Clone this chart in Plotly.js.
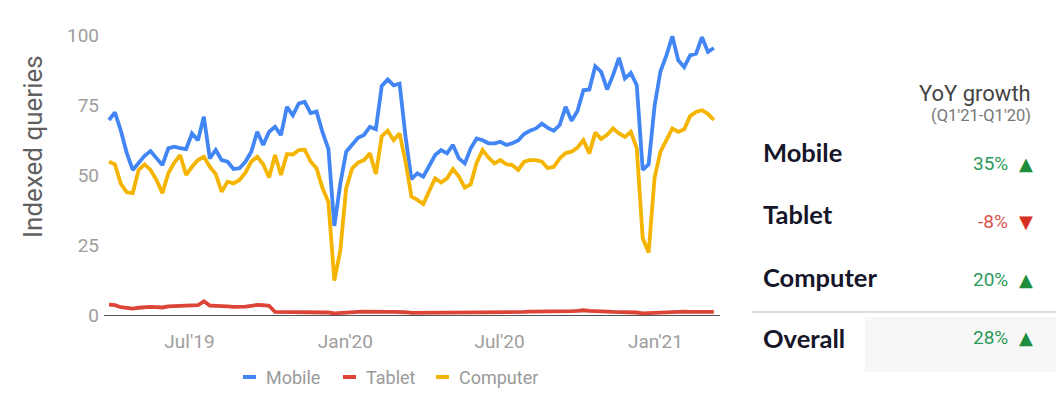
<!DOCTYPE html>
<html>
<head>
<meta charset="utf-8">
<script src="https://cdn.plot.ly/plotly-3.0.1.min.js"></script>
<style>
html, body { margin: 0; padding: 0; background: #ffffff; }
#chart { width: 1064px; height: 404px; }
</style>
</head>
<body>
<div id="chart"></div>
<script>
// ---- Data (weekly index values) ----
const startWeek = '2019-03-28';

const mobile = [
  69.8, 72.5, 66, 58, 52, 54.3, 57, 58.7, 56, 53.7,
  59.7, 60.3, 59.8, 59.4, 65, 62.6, 71, 56.1, 59.1, 55.5,
  54.9, 52.3, 52.6, 54.9, 58.5, 65.6, 60.9, 65.6, 67.4, 64.4,
  74.5, 71.5, 75.7, 76.3, 72.3, 72.8, 65.5, 59.5, 32, 47,
  58.5, 61.2, 63.5, 64.5, 67.4, 66.5, 82, 84.3, 82.2, 82.8,
  64, 48.7, 50.8, 49.6, 53.4, 57.3, 59.1, 57.9, 60.9, 56.1,
  54.3, 59.7, 63.2, 62.6, 61.5, 61.5, 62, 60.9, 61.5, 62.5,
  64.8, 66, 66.8, 68.5, 67, 66, 68, 74.5, 69.5, 73,
  80.4, 80.7, 89, 87, 80.7, 85.8, 92, 84.6, 86.6, 82.2,
  52, 54, 74.8, 87.2, 92.9, 99.7, 91.1, 88.7, 92.9, 93.5,
  99.4, 94.1, 95.5
];

const tablet = [
  3.9, 3.7, 3.0, 2.6, 2.5, 2.8, 3.0, 3.1, 3.0, 2.9,
  3.3, 3.4, 3.4, 3.6, 3.5, 3.7, 5.1, 3.6, 3.5, 3.5,
  3.3, 3.1, 3.0, 3.2, 3.5, 3.8, 3.7, 3.5, 1.3, 1.3,
  1.3, 1.4, 1.3, 1.3, 1.4, 1.3, 1.2, 1.1, 0.8, 1.0,
  1.2, 1.3, 1.3, 1.4, 1.3, 1.3, 1.4, 1.3, 1.3, 1.4,
  1.2, 1.0, 1.0, 1.1, 1.1, 1.2, 1.2, 1.3, 1.2, 1.2,
  1.3, 1.2, 1.2, 1.3, 1.3, 1.2, 1.3, 1.3, 1.2, 1.3,
  1.3, 1.4, 1.4, 1.3, 1.4, 1.4, 1.5, 1.5, 1.6, 1.7,
  1.9, 1.7, 1.5, 1.4, 1.4, 1.3, 1.3, 1.3, 1.2, 1.1,
  0.8, 0.9, 1.1, 1.2, 1.3, 1.3, 1.3, 1.4, 1.3, 1.3,
  1.3, 1.3, 1.3
];

const computer = [
  54.9, 54, 47, 44, 43.7, 52, 54, 52, 48.4, 43.7,
  50.8, 54.5, 57.3, 50.2, 53.1, 55.5, 56.7, 53.1, 50.5, 44.2,
  47.8, 47.2, 48.4, 51, 55, 56.7, 54, 49.3, 57.3, 50.2,
  57.6, 57.5, 59.1, 59.2, 55, 52.6, 45.5, 40.5, 12.5, 23.2,
  45.5, 52.5, 54.6, 55.5, 57.9, 50.5, 64, 66, 62.6, 65,
  55, 42.5, 41.3, 39.8, 44.5, 49, 47.5, 49, 52.3, 49.6,
  45.7, 46.9, 54.6, 59.1, 56.4, 54.3, 55.5, 54, 53.7, 52,
  54.9, 55.5, 55.5, 54.9, 52.6, 53.1, 56.1, 58, 58.5, 60,
  62.6, 57.9, 65.3, 63, 64.5, 66.8, 65, 63.8, 65.6, 59.7,
  27.6, 22.5, 49.2, 58.5, 62.6, 66.8, 65.6, 66.5, 71.2, 72.7,
  73.3, 72, 69.8
];

const seriesNames = ['Mobile', 'Tablet', 'Computer'];
const seriesColors = ['#4285f4', '#db4437', '#f4b400'];

const xTickVals = ['2019-07-01', '2020-01-01', '2020-07-01', '2021-01-01'];
const xTickText = ["Jul'19", "Jan'20", "Jul'20", "Jan'21"];
const yTickVals = [0, 25, 50, 75, 100];

const tableHeader = 'YoY growth';
const tableSubHeader = "(Q1'21-Q1'20)";
const rowLabels = ['Mobile', 'Tablet', 'Computer', 'Overall'];
const yoyGrowth = [35, -8, 20, 28];

// ---- helpers ----
const DAY = 86400000;
function weekDates(start, n) {
  const t0 = Date.parse(start + 'T00:00:00Z');
  const out = [];
  for (let i = 0; i < n; i++) out.push(new Date(t0 + i * 7 * DAY).toISOString().slice(0, 10));
  return out;
}
function fmt(ms) { return new Date(ms).toISOString().replace('T', ' ').slice(0, 19); }

const W = 1064, H = 404;
const M = { l: 104, r: 344, t: 27, b: 80 };
const PW = W - M.l - M.r, PH = H - M.t - M.b;
const px = x => (x - M.l) / PW;           // pixel -> paper x
const py = y => (H - M.b - y) / PH;       // pixel -> paper y

const dates = weekDates(startWeek, mobile.length);
const pxPerDay = 5.93 / 7;
const t0 = Date.parse(startWeek + 'T00:00:00Z');
const xRange = [fmt(t0 - (5 / pxPerDay) * DAY), fmt(t0 + ((PW - 5) / pxPerDay) * DAY)];

const seriesData = [mobile, tablet, computer];
const traces = seriesNames.map((name, k) => ({
  type: 'scatter', mode: 'lines', name: name,
  x: dates, y: seriesData[k],
  line: { color: seriesColors[k], width: 3.8, shape: 'linear' },
  showlegend: false,
  hoverinfo: 'x+y+name'
}));

const annotations = [];
const shapes = [];

// y-axis title
annotations.push({
  xref: 'paper', yref: 'paper', x: px(33), y: py(147),
  text: 'Indexed queries', textangle: -90, showarrow: false,
  xanchor: 'center', yanchor: 'middle',
  font: { family: 'Roboto, sans-serif', size: 26, color: '#5f5f5f' }
});

// legend (short dashes + names, centred under the plot)
const legendX = [243, 343, 436];
seriesNames.forEach((name, k) => {
  shapes.push({
    type: 'line', xref: 'paper', yref: 'paper',
    x0: px(legendX[k]), x1: px(legendX[k] + 13), y0: py(377), y1: py(377),
    line: { color: seriesColors[k], width: 4 }
  });
  annotations.push({
    xref: 'paper', yref: 'paper', x: px(legendX[k] + 21), y: py(377), text: name, showarrow: false,
    xanchor: 'left', yanchor: 'middle',
    font: { family: 'Roboto, sans-serif', size: 18, color: '#9a9a9a' }
  });
});

// right-side table
annotations.push({
  xref: 'paper', yref: 'paper', x: px(1033), y: py(94), text: tableHeader, showarrow: false,
  xanchor: 'right', yanchor: 'middle',
  font: { family: 'Roboto, sans-serif', size: 22, color: '#444444' }
});
annotations.push({
  xref: 'paper', yref: 'paper', x: px(1033), y: py(116), text: tableSubHeader, showarrow: false,
  xanchor: 'right', yanchor: 'middle',
  font: { family: 'Roboto, sans-serif', size: 16.5, color: '#777777' }
});

const labelY = [152, 214, 277, 338];
const valueY = [163, 221, 279, 337];
shapes.push({
  type: 'rect', xref: 'paper', yref: 'paper', x0: px(865), x1: px(1056), y0: py(317), y1: py(372),
  fillcolor: '#f7f7f7', line: { width: 0 }, layer: 'below'
});
shapes.push({
  type: 'line', xref: 'paper', yref: 'paper', x0: px(752), x1: px(1056), y0: py(312), y1: py(312),
  line: { color: '#dedede', width: 2 }
});
rowLabels.forEach((lab, i) => {
  annotations.push({
    xref: 'paper', yref: 'paper', x: px(761), y: py(labelY[i]), text: '<b>' + lab + '</b>', showarrow: false,
    xanchor: 'left', yanchor: 'middle',
    font: { family: 'Lato, sans-serif', size: 25.5, color: '#16162a' }
  });
  const g = yoyGrowth[i];
  const up = g >= 0;
  annotations.push({
    xref: 'paper', yref: 'paper', x: px(1010), y: py(valueY[i]), text: g + '%', showarrow: false,
    xanchor: 'right', yanchor: 'middle',
    font: { family: 'Roboto, sans-serif', size: 19, color: up ? '#2b9a5a' : '#d9534f' }
  });
  annotations.push({
    xref: 'paper', yref: 'paper', x: px(1025.5), y: py(valueY[i]), text: up ? '▲' : '▼', showarrow: false,
    xanchor: 'center', yanchor: 'middle',
    font: { family: 'DejaVu Sans, sans-serif', size: 18, color: up ? '#1e8e3e' : '#d93025' }
  });
});

const layout = {
  width: W, height: H,
  margin: M,
  paper_bgcolor: '#ffffff', plot_bgcolor: '#ffffff',
  font: { family: 'Roboto, sans-serif', color: '#9e9e9e' },
  showlegend: false,
  xaxis: {
    type: 'date', range: xRange,
    tickvals: xTickVals, ticktext: xTickText,
    showgrid: false, zeroline: false, showline: false, ticks: '',
    ticklabelstandoff: 4,
    tickfont: { family: 'Roboto, sans-serif', size: 19, color: '#9e9e9e' },
    fixedrange: true
  },
  yaxis: {
    range: [-3, 103], tickvals: yTickVals,
    showgrid: false, zeroline: true, zerolinecolor: '#555555', zerolinewidth: 1,
    showline: false, ticks: '',
    ticklabelstandoff: 4,
    tickfont: { family: 'Roboto, sans-serif', size: 19, color: '#9e9e9e' },
    fixedrange: true
  },
  annotations: annotations,
  shapes: shapes
};

Plotly.newPlot('chart', traces, layout, { displayModeBar: false, staticPlot: true });
</script>
</body>
</html>
